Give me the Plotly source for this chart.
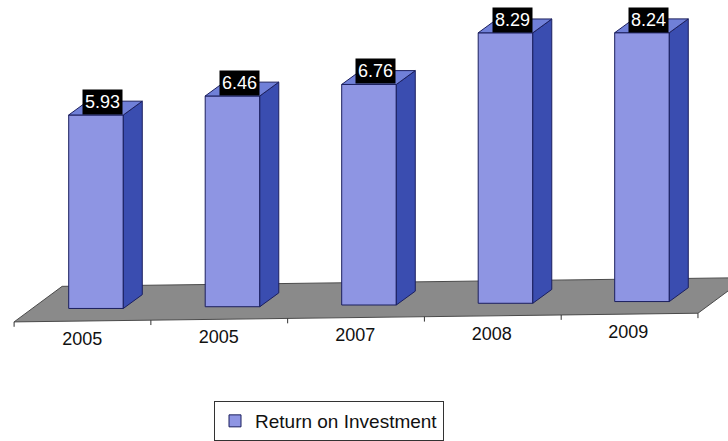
import plotly.graph_objects as go

# Data
years = ["2005", "2005", "2007", "2008", "2009"]
roi = [5.93, 6.46, 6.76, 8.29, 8.24]
series_name = "Return on Investment"

# Pseudo-3D geometry (in axis units)
BAR_W = 0.4          # front face width (category units)
DEPTH_X = 0.139      # oblique depth offset, horizontal
DEPTH_Y = 0.424      # oblique depth offset, vertical
TILT = 0.053         # slight slope of the floor line per category
FLOOR_FRONT = -0.38  # floor front edge relative to bar base
FLOOR_DX, FLOOR_DY = 0.352, 1.09  # floor depth
FLOOR_X0, FLOOR_X1 = -0.6, 4.41

FRONT = "#8e95e3"
SIDE = "#3a4db0"
TOP = "#7080d8"
EDGE = "#1b1f5e"
FLOOR = "#8a8a8a"
FONT = "Liberation Sans, Arial"


def base(x):
    return TILT * x


xs = list(range(len(roi)))
fig = go.Figure()

# Floor plane, drawn beneath every trace
corners = [
    (FLOOR_X0, base(FLOOR_X0) + FLOOR_FRONT),
    (FLOOR_X1, base(FLOOR_X1) + FLOOR_FRONT),
    (FLOOR_X1 + FLOOR_DX, base(FLOOR_X1) + FLOOR_FRONT + FLOOR_DY),
    (FLOOR_X0 + FLOOR_DX, base(FLOOR_X0) + FLOOR_FRONT + FLOOR_DY),
]
path = "M " + " L ".join(f"{x},{y}" for x, y in corners) + " Z"
fig.add_shape(type="path", path=path, xref="x", yref="y", layer="below",
              fillcolor=FLOOR, line=dict(color="#4a4a4a", width=1))

# Tick marks along the front edge of the floor
tx, ty = [], []
for k in range(len(roi) + 1):
    x = FLOOR_X0 + k * (FLOOR_X1 - FLOOR_X0) / len(roi)
    y0 = base(x) + FLOOR_FRONT
    tx += [x, x, None]
    ty += [y0, y0 - 0.15, None]
fig.add_trace(go.Scatter(x=tx, y=ty, mode="lines", line=dict(color="#333333", width=1),
                         hoverinfo="skip", showlegend=False))

# Side and top faces of each bar
for i, v in zip(xs, roi):
    b = base(i)
    r = i + BAR_W / 2
    l = i - BAR_W / 2
    fig.add_trace(go.Scatter(
        x=[r, r + DEPTH_X, r + DEPTH_X, r, r],
        y=[b, b + DEPTH_Y, b + v + DEPTH_Y, b + v, b],
        fill="toself", fillcolor=SIDE, mode="lines", line=dict(color=EDGE, width=1),
        hoverinfo="skip", showlegend=False))
    fig.add_trace(go.Scatter(
        x=[l, l + DEPTH_X, r + DEPTH_X, r, l],
        y=[b + v, b + v + DEPTH_Y, b + v + DEPTH_Y, b + v, b + v],
        fill="toself", fillcolor=TOP, mode="lines", line=dict(color=EDGE, width=1),
        hoverinfo="skip", showlegend=False))

# Front faces
fig.add_trace(go.Bar(x=xs, y=roi, base=[base(i) for i in xs], width=BAR_W,
                     marker=dict(color=FRONT, line=dict(color=EDGE, width=1)),
                     name=series_name, hoverinfo="skip"))

# Category labels below the floor
lx = [i - 0.1 for i in xs]
fig.add_trace(go.Scatter(x=lx, y=[base(x) - 0.97 for x in lx], mode="text", text=years,
                         textfont=dict(family=FONT, size=18, color="#111111"),
                         hoverinfo="skip", showlegend=False))

# Value labels
for i, v in zip(xs, roi):
    fig.add_annotation(x=i + BAR_W / 2, y=base(i) + v, text=f"{v:.2f}", showarrow=False,
                       xanchor="right", yanchor="bottom", bgcolor="black", borderpad=2,
                       font=dict(family=FONT, size=18, color="white"))

fig.update_layout(
    width=728, height=441,
    margin=dict(l=0, r=0, t=0, b=0),
    paper_bgcolor="white", plot_bgcolor="white",
    xaxis=dict(visible=False, range=[-96 / 136.5, (728 - 96) / 136.5], fixedrange=True),
    yaxis=dict(visible=False, range=[-(441 - 312) / 33, 312 / 33], fixedrange=True),
    showlegend=True,
    legend=dict(x=214 / 728, y=1 - 406 / 441, xanchor="left", yanchor="top",
                bgcolor="white", bordercolor="#333333", borderwidth=1,
                font=dict(family=FONT, size=19, color="#111111")),
)

fig.write_html("out.html")
